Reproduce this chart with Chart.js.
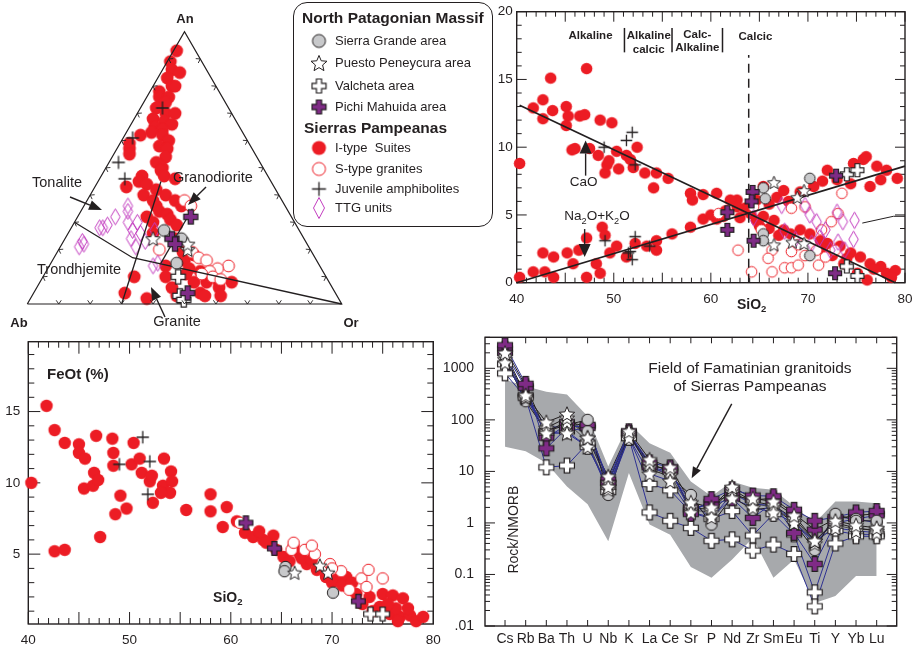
<!DOCTYPE html>
<html>
<head>
<meta charset="utf-8">
<script src="https://cdn.jsdelivr.net/npm/chart.js@4.4.1/dist/chart.umd.min.js"></script>
<style>
  body { margin: 0; width: 915px; height: 653px; background: #fff; position: relative; overflow: hidden;
         font-family: "Liberation Sans", Arial, Helvetica, sans-serif; color: #231f20; }
  canvas { position: absolute; }
  #legendBox { position: absolute; left: 293px; top: 2px; width: 200px; height: 225px; box-sizing: border-box;
               border: 1.5px solid #231f20; border-radius: 14px; z-index: 3; }
  .lg { position: absolute; z-index: 4; white-space: pre; line-height: 20px; font-size: 13px; }
  .lg.head { font-weight: bold; font-size: 15.5px; }
</style>
</head>
<body>
<canvas id="tern" width="360" height="330" style="left:0;top:0"></canvas>
<canvas id="harker" width="425" height="320" style="left:490px;top:0"></canvas>
<canvas id="feot" width="450" height="323" style="left:0;top:330px"></canvas>
<canvas id="spider" width="475" height="323" style="left:440px;top:330px"></canvas>
<div id="legendBox"></div>
<script>
// ---------- ternary An-Ab-Or, points are [An, Or] in %, Ab = rest ----------
const ternIType = [
  [93,1],[89,1],[86,3],[85,6],[83,3],[80,6],[80,7],[78,3],[76,4],[76,7],[74,7],[72,5],[70,9],[70,12],[68,6],[67,10],
  [66,13],[65,8],[64,11],[63,8],[62,5],[62,12],[60,15],[59,3],[58,13],[57,4],[57,16],[55,5],[54,17],[52,15],[50,18],[49,18],
  [47,13],[47,20],[46,24],[45,13],[44,16],[43,10],[42,20],[40,17],[40,24],[38,21],[38,28],[36,23],[36,31],[34,25],[33,28],[32,22],
  [31,30],[30,25],[29,33],[26,27],[24,35],[19,40],[18,44],[16,42],[14,37],[13,45],[12,49],
  [11,45],[10,29],[10,39],[8,49],[8,53],[8,57],[8,61],[6,43],[6,58],[4,29],[4,53],
  [3,46],[3,55],[3,60],[2,37]
];
const ternSType = [[38,31],[36,34],[20,32],[19,43],[17,46],[16,49],[14,57],[13,54],[12,52],[11,50],[10,54],[9,57]];
const ternTTG = [[23,6],[21,6],[22,7],[28,9],[28,10],[29,11],[32,12],[36,14],[34,15],[30,17],[27,20],
  [26,23],[24,21],[21,24],[23,26],[27,27],[14,33],[15,34],[30,20]];
const ternJuvenile = [[72,7],[61,3],[52,3],[46,8]];
const ternSierraGrande = [[27,30],[24,37],[15,40]];
const ternPuesto = [[24,28],[20,41],[22,40]];
const ternValcheta = [[10,43],[3,47],[1.5,49]];
const ternPichi = [[32,36],[24,34],[22,36],[4,49]];
const ternFrame = [[0,0],[0,100],[100,0],[0,0]];
const ternTonaliteLine = [[30,0],[17,25],[0,100]];
const ternGraniteLine = [[45,20],[0,30]];
const ternGranodioriteLine = [[35,35],[15,35]];
const ternTickSteps = [10,20,30,40,50,60,70,80,90];

// ---------- Harker: [SiO2, wt%] for CaO and Na2O+K2O ----------
const caoIType = [[40.3,8.8],[41.7,12.9],[42.7,12.1],[42.7,13.5],[43.5,15.1],[43.7,12.7],[45.1,13.0],[45.3,12.3],
  [45.1,11.6],[45.7,9.8],[46.5,12.3],[47.0,12.4],[47.2,15.8],[48.6,12.0],[49.8,11.8],[48.4,9.4],[49.1,8.1],
  [49.3,8.7],[50.3,9.7],[50.5,8.4],[51.3,9.4],[52.4,10.0],[51.7,9.1],[53.2,8.1],[54.1,7.0],[54.4,8.1],[55.6,7.7],
  [57.9,6.6],[58.1,6.1],[59.2,6.5],[60.6,6.6],[62.0,6.1],[62.7,5.6],[64.1,5.1],[64.7,4.6],[65.4,4.9],[66.5,4.6],
  [67.5,3.9],[68.2,3.6],[69.2,3.9],[70.2,3.6],[71.3,3.1],[72.0,2.9],[73.3,2.7],[74.4,2.2],[75.4,1.9],[76.4,1.4],
  [77.5,1.2],[78.1,0.7],[79.0,0.9],[76.1,0.2],[75.1,0.7],[73.7,1.4],[46.0,9.9],[47.5,9.9],[49.5,9.0],[52.0,8.5],
  [61.5,5.3],[63.0,4.8],[65.0,4.2],[66.0,4.0],[67.0,3.5],[71.5,2.5],[72.5,2.0],[74.0,1.8],[76.8,1.0],[78.6,0.4]];
const alkIType = [[40.3,0.4],[41.7,0.8],[42.9,0.8],[43.8,0.4],[42.7,2.2],[43.8,1.9],[45.2,2.2],[45.8,1.4],
  [46.4,2.4],[47.2,0.4],[47.2,3.3],[48.2,1.4],[48.8,4.1],[49.1,3.5],[48.6,0.7],[49.6,2.2],[50.3,2.7],[51.3,1.9],
  [52.2,2.9],[53.4,2.7],[54.4,3.1],[54.4,2.4],[57.9,4.1],[59.2,4.7],[60.6,4.7],[61.3,4.9],[62.7,6.1],[64.7,6.1],
  [65.4,7.1],[66.8,6.3],[67.5,6.8],[69.2,6.7],[70.6,7.1],[72.0,8.3],[73.0,7.6],[74.7,8.8],[75.7,9.1],[76.0,9.3],
  [77.1,8.6],[78.1,8.3],[79.2,7.7],[76.4,7.1],[74.4,7.3],[77.5,7.6],[63.5,5.5],[66.0,5.8],[68.0,6.0],[71.5,7.5],
  [60.0,5.0],[56.0,3.6]];
const harkerSType = [[60.8,5.1],[64.4,5.6],[66.3,2.4],[65.9,1.8],[64.2,0.8],[66.3,0.8],[67.6,1.1],[68.3,1.1],
  [69.0,1.3],[71.1,1.3],[68.3,2.3],[69.7,2.0],[70.9,2.4],[71.8,1.9],[72.8,2.4],[68.3,5.5],[69.7,5.6],[73.1,5.1],
  [73.5,6.6],[72.4,4.5],[62.8,2.4],[71.4,3.9],[65.2,3.9],[69.0,2.8]];
const harkerTTG = [[64.4,4.8],[67.3,5.7],[67.6,3.8],[68.7,3.2],[70.2,5.0],[70.9,4.5],[70.4,2.9],[71.2,3.3],
  [71.8,3.9],[72.3,2.4],[73.0,5.2],[73.1,3.0],[73.6,4.5],[74.8,4.6],[74.7,3.2],[69.7,5.7],[73.8,2.4]];
const harkerJuvenile = [[49.0,10.0],[51.3,10.5],[51.9,11.1],[52.2,8.7],[49.1,3.1],[51.5,2.2],[51.9,1.7],
  [52.2,3.4],[53.7,2.7],[51.7,2.3]];
const harkerSierraGrande = [[65.4,7.0],[65.6,6.2],[70.2,7.7],[65.4,3.6],[65.4,3.1],[70.2,2.0]];
const harkerPuesto = [[66.5,7.4],[68.9,6.3],[69.6,6.8],[66.5,2.8],[68.4,3.0],[69.6,2.9]];
const harkerValcheta = [[74.0,8.0],[75.1,8.3],[74.0,1.2],[75.1,0.5]];
const harkerPichi = [[61.7,5.2],[61.7,3.9],[64.3,6.7],[64.2,6.0],[64.4,3.1],[72.9,7.9],[72.8,0.7]];
const caoTrend = [[40.3,13.1],[79.0,0]];
const alkTrend = [[40,0],[80,8.6]];
const ttgTrend = [[75.6,4.4],[78.8,4.9],[80,4.9]];
const calcicLimit = [[63.9,0],[63.9,16.8]];
const seriesDividers = [51.1, 56.0, 61.2];
const dividerRange = [17.0, 18.8];
const harkerXTicks = [40,50,60,70,80];
const harkerYTicks = [0,5,10,15,20];

// ---------- FeOt vs SiO2 ----------
const feotIType = [[40.3,10.0],[41.8,15.4],[42.6,13.7],[42.6,5.2],[43.6,5.3],[43.6,12.8],[45.0,12.7],[45.0,12.1],
  [45.6,11.7],[45.5,9.6],[46.4,9.8],[46.5,10.7],[46.7,13.3],[46.9,10.2],[47.1,6.2],[48.3,13.1],[48.4,12.1],
  [48.4,11.2],[48.6,7.8],[49.1,9.1],[49.7,8.2],[50.2,11.3],[50.4,12.8],[51.0,11.7],[51.2,10.7],[52.0,10.1],
  [52.2,10.5],[52.3,8.6],[53.3,9.8],[53.4,11.7],[54.1,10.8],[54.2,10.1],[54.0,9.3],[53.1,9.3],[55.6,8.1],
  [58.0,9.2],[58.0,8.0],[59.6,8.3],[59.2,6.9],[60.6,7.3],[61.4,6.5],[62.2,6.2],[63.2,6.0],[64.2,6.3],[63.5,5.8],
  [64.5,5.3],[65.2,4.8],[66.2,5.5],[66.8,5.0],[67.5,4.3],[68.5,3.9],[69.4,3.4],[70.4,3.2],[71.4,3.4],[72.4,2.2],
  [73.7,2.0],[75.0,2.2],[76.0,2.1],[77.0,1.9],[74.7,1.3],[75.7,0.8],[76.7,0.6],[77.7,0.7],[78.3,0.3],[79.0,0.6],
  [76.3,1.2],[62.8,6.6],[65.8,4.5],[67.0,4.7],[68.0,4.6],[70.0,3.0],[71.0,2.8],[73.0,1.5],[74.0,1.0],[75.5,1.5],
  [77.5,1.2],[76.5,0.3],[72.0,3.0]];
const feotSType = [[66.0,5.3],[67.3,5.3],[68.3,5.0],[70.9,3.8],[72.9,3.3],[73.6,3.9],[75.0,3.3],[73.4,2.7],
  [69.8,4.3],[66.2,5.8],[60.9,7.2],[71.7,2.5],[68.0,5.6],[70.0,4.0]];
const feotJuvenile = [[51.3,13.2],[49.0,11.3],[52.0,11.5],[51.8,9.2]];
const feotSierraGrande = [[65.4,4.1],[65.3,3.8],[70.1,2.3]];
const feotPuesto = [[66.3,3.7],[68.8,4.2],[69.6,3.7]];
const feotValcheta = [[73.8,0.8],[75.0,0.8]];
const feotPichi = [[61.5,7.2],[64.3,5.4],[72.6,1.7]];
const feotXTicks = [40,50,60,70,80];
const feotYTicks = [5,10,15];

// ---------- spider diagram, rock / N-MORB ----------
const spiderElements = ['Cs','Rb','Ba','Th','U','Nb','K','La','Ce','Sr','P','Nd','Zr','Sm','Eu','Ti','Y','Yb','Lu'];
const fieldUpper = [600,450,350,310,117,12.5,86,35,23,6.4,3.3,6.4,4.8,4.4,2.1,1.0,2.6,2.6,2.4];
const fieldLower = [30,24.5,14.5,5.1,2.3,0.44,9.3,0.93,0.59,0.14,0.086,0.195,0.51,0.086,0.195,0.028,0.038,0.093,0.093];
const spiderValcheta = [
  [800,270,12,13,35,4,45,1.6,1.1,0.8,0.45,0.48,0.29,0.38,0.25,0.024,0.4,0.55,0.55],
  [1200,300,55,60,30,5,45,5.7,4.3,1.6,1.2,1.7,0.57,1.5,0.6,0.045,0.7,0.6,0.6]];
const spiderPichi = [
  [2800,500,28,70,80,6,55,15,12,1.5,2.9,4.5,3.4,3.3,1.8,1.1,1.3,1.6,1.7],
  [2000,420,45,80,70,7,60,12,10,2.0,2.2,3.0,1.25,2.5,0.64,0.16,1.0,1.2,1.4],
  [2400,450,60,90,75,6,55,13,11,1.8,2.5,3.5,2.8,3.0,1.5,0.74,1.2,1.4,1.5]];
const spiderSierraGrande = [
  [1500,230,60,80,100,3.5,55,11,8,3.5,0.93,3.2,1.8,2.0,1.0,0.3,1.5,1.1,1.1],
  [1800,260,75,70,60,5,50,12,9,2.6,1.2,3.8,2.3,2.2,1.1,0.35,1.3,1.2,1.0]];
const spiderPuesto = [
  [2000,300,90,130,45,8,60,17,12,2.5,2.0,5.0,3.0,2.6,1.4,0.45,1.1,0.9,0.8],
  [1300,280,55,55,30,5,45,9,6.5,1.6,1.3,3.0,2.0,1.6,1.0,0.45,0.8,0.7,0.65],
  [1700,290,70,110,45,6,55,14,10,2.0,1.8,4.5,2.6,2.2,1.2,0.45,1.0,0.8,0.7],
  [1500,270,60,90,38,4.5,50,12,8.5,1.8,1.6,4.0,2.4,2.0,1.1,0.4,0.9,0.75,0.75]];
const spiderYTicks = [0.01,0.1,1,10,100,1000];
const spiderYLabels = ['.01','0.1','1','10','100','1000'];

// ---------- styling ----------
const INK = '#231f20', RED = '#ec1c24', PURPLE = '#7f2b86', MAGENTA = '#c23cbf';
const GREY = '#c8c9cb', BLUE = '#2e3192', FIELD = '#a7a9ac';
const FONT = '"Liberation Sans", Arial, Helvetica, sans-serif';
const SQ = Math.sqrt(3) / 2;
Chart.defaults.font.family = FONT;
Chart.defaults.color = INK;

function mk(w, h, fn) {
  const c = document.createElement('canvas');
  c.width = Math.ceil(w); c.height = Math.ceil(h);
  const g = c.getContext('2d');
  fn(g, c.width / 2, c.height / 2);
  return c;
}
function circleImg(r, fill, stroke) {
  return mk(2 * r + 3, 2 * r + 3, (g, cx, cy) => {
    g.beginPath(); g.arc(cx, cy, stroke ? r - 0.5 : r, 0, Math.PI * 2);
    g.fillStyle = fill; g.fill();
    if (stroke) { g.lineWidth = 1; g.strokeStyle = stroke; g.stroke(); }
  });
}
function plusImg(r) {
  return mk(2 * r + 3, 2 * r + 3, (g, cx, cy) => {
    g.beginPath(); g.moveTo(cx - r, cy); g.lineTo(cx + r, cy); g.moveTo(cx, cy - r); g.lineTo(cx, cy + r);
    g.lineWidth = 1.3; g.strokeStyle = INK; g.stroke();
  });
}
function diamondImg(w, h) {
  return mk(w + 3, h + 3, (g, cx, cy) => {
    g.beginPath(); g.moveTo(cx, cy - h / 2); g.lineTo(cx + w / 2, cy); g.lineTo(cx, cy + h / 2); g.lineTo(cx - w / 2, cy);
    g.closePath(); g.lineWidth = 1; g.strokeStyle = MAGENTA; g.stroke();
  });
}
function starImg(R) {
  return mk(2 * R + 3, 2 * R + 3, (g, cx, cy) => {
    g.beginPath();
    for (let i = 0; i < 10; i++) {
      const rr = i % 2 ? R * 0.45 : R, a = -Math.PI / 2 + i * Math.PI / 5;
      g.lineTo(cx + rr * Math.cos(a), cy + R * 0.1 + rr * Math.sin(a));
    }
    g.closePath(); g.fillStyle = '#fff'; g.fill(); g.lineWidth = 1; g.strokeStyle = INK; g.stroke();
  });
}
function fatCrossImg(h, a, fill) {
  const p = [[-a,-h],[a,-h],[a,-a],[h,-a],[h,a],[a,a],[a,h],[-a,h],[-a,a],[-h,a],[-h,-a],[-a,-a]];
  return mk(2 * h + 3, 2 * h + 3, (g, cx, cy) => {
    g.beginPath(); p.forEach(([x, y]) => g.lineTo(cx + x, cy + y)); g.closePath();
    g.fillStyle = fill; g.fill(); g.lineWidth = 1.2; g.strokeStyle = INK; g.stroke();
  });
}
function symbolSet(r, o = {}) {
  const ck = o.cross || 1.1, sk = o.star || 1.2, tt = o.ttg || [10, 16];
  return {
    itype: circleImg(r, RED, null), stype: circleImg(r, '#fff', RED), sg: circleImg(r, GREY, INK),
    juv: plusImg(r), ttg: diamondImg(tt[0], tt[1]), pp: starImg(r * sk),
    va: fatCrossImg(r * ck, r * ck * 0.37, '#fff'), pm: fatCrossImg(r * ck, r * ck * 0.37, PURPLE)
  };
}

// ---------- dataset helpers ----------
const xy = arr => arr.map(([x, y]) => ({ x, y }));
const tern1 = (an, or) => ({ x: or / 100 + an / 200, y: an / 100 * SQ });
const tp = arr => arr.map(([an, or]) => tern1(an, or));
const sp = vals => vals.map((v, i) => ({ x: i, y: v }));
function dsPoints(data, img, order) {
  return { data, pointStyle: img, pointRadius: img.width / 2, pointHoverRadius: img.width / 2, showLine: false, order, clip: false };
}
function dsLine(data, color, width, dash, order) {
  return { data, showLine: true, pointRadius: 0, borderColor: color, borderWidth: width, borderDash: dash || [],
           fill: false, order, clip: false };
}

// ---------- drawing plugin: frame ticks, texts, arrows ----------
const DECOR = {};
function linTicks(min, max, step, major, minLen, majLen) {
  const out = [];
  for (let v = min; v <= max + 1e-9; v += step) {
    const r = Math.round(v * 1000) / 1000;
    out.push([r, Math.abs(r / major - Math.round(r / major)) < 1e-6 ? majLen : minLen]);
  }
  return out;
}
function logTicks(min, max, minLen, majLen) {
  const out = [];
  for (let e = Math.floor(Math.log10(min)); e <= Math.ceil(Math.log10(max)); e++)
    for (let k = 1; k < 10; k++) {
      const v = k * Math.pow(10, e);
      if (v >= min * 0.999 && v <= max * 1.001) out.push([v, k === 1 ? majLen : minLen]);
    }
  return out;
}
function drawText(ctx, t, x, y) {
  const size = t.size || 13, w = t.bold ? 'bold ' : '';
  const segs = t.segs || [[t.t, false]];
  const fontOf = sub => w + (sub ? size * 0.68 : size) + 'px ' + FONT;
  let total = 0;
  segs.forEach(([s, sub]) => { ctx.font = fontOf(sub); total += ctx.measureText(s).width; });
  ctx.save(); ctx.translate(x, y); if (t.rot) ctx.rotate(t.rot);
  let cx = t.align === 'left' ? 0 : t.align === 'right' ? -total : -total / 2;
  ctx.fillStyle = INK; ctx.textBaseline = 'middle'; ctx.textAlign = 'left';
  segs.forEach(([s, sub]) => { ctx.font = fontOf(sub); ctx.fillText(s, cx, sub ? size * 0.32 : 0); cx += ctx.measureText(s).width; });
  ctx.restore();
}
function drawArrow(ctx, x1, y1, x2, y2, head, halfW) {
  const a = Math.atan2(y2 - y1, x2 - x1), bx = x2 - head * Math.cos(a), by = y2 - head * Math.sin(a);
  ctx.strokeStyle = INK; ctx.fillStyle = INK; ctx.lineWidth = 1.4;
  ctx.beginPath(); ctx.moveTo(x1, y1); ctx.lineTo(bx, by); ctx.stroke();
  ctx.beginPath(); ctx.moveTo(x2, y2);
  ctx.lineTo(bx + halfW * Math.sin(a), by - halfW * Math.cos(a));
  ctx.lineTo(bx - halfW * Math.sin(a), by + halfW * Math.cos(a));
  ctx.closePath(); ctx.fill();
}
const decorPlugin = {
  id: 'decor',
  beforeDatasetsDraw(chart) {
    const cfg = DECOR[chart.canvas.id];
    if (!cfg || !cfg.frame) return;
    const { ctx, chartArea: a } = chart, sx = chart.scales.x, sy = chart.scales.y;
    ctx.save(); ctx.strokeStyle = INK; ctx.lineWidth = 1; ctx.beginPath();
    cfg.frame.xt.forEach(([v, len]) => {
      const X = sx.getPixelForValue(v);
      ctx.moveTo(X, a.bottom); ctx.lineTo(X, a.bottom - len); ctx.moveTo(X, a.top); ctx.lineTo(X, a.top + len);
    });
    cfg.frame.yt.forEach(([v, len]) => {
      const Y = sy.getPixelForValue(v);
      ctx.moveTo(a.left, Y); ctx.lineTo(a.left + len, Y); ctx.moveTo(a.right, Y); ctx.lineTo(a.right - len, Y);
    });
    ctx.stroke();
    ctx.lineWidth = 1.4; ctx.strokeRect(a.left, a.top, a.width, a.height);
    ctx.restore();
  },
  afterDatasetsDraw(chart) {
    const cfg = DECOR[chart.canvas.id];
    if (!cfg) return;
    const ctx = chart.ctx, sx = chart.scales.x, sy = chart.scales.y;
    const P = (x, y) => cfg.pixel ? [x, y] : [sx.getPixelForValue(x), sy.getPixelForValue(y)];
    ctx.save();
    if (cfg.ternTicks) {
      const TP = (an, or) => { const q = tern1(an, or); return [sx.getPixelForValue(q.x), sy.getPixelForValue(q.y)]; };
      const C = TP(33.3, 33.3);
      const edges = [[[0,0],[0,100]], [[0,100],[100,0]], [[100,0],[0,0]]];
      ctx.strokeStyle = INK; ctx.lineWidth = 0.9; ctx.beginPath();
      edges.forEach(([f, t]) => {
        const [x0, y0] = TP(f[0], f[1]), [x1, y1] = TP(t[0], t[1]);
        let ex = x1 - x0, ey = y1 - y0; const L = Math.hypot(ex, ey); ex /= L; ey /= L;
        let nx = -ey, ny = ex;
        cfg.ternTicks.forEach(s => {
          const px = x0 + ex * L * s / 100, py = y0 + ey * L * s / 100;
          if ((C[0] - px) * nx + (C[1] - py) * ny < 0) { nx = -nx; ny = -ny; }
          [0.6, -0.6].forEach(r => {
            const dx = nx * Math.cos(r) - ny * Math.sin(r), dy = nx * Math.sin(r) + ny * Math.cos(r);
            ctx.moveTo(px, py); ctx.lineTo(px + dx * 4.5, py + dy * 4.5);
          });
        });
      });
      ctx.stroke();
    }
    (cfg.arrows || []).forEach(a => {
      const [x1, y1] = P(a[0], a[1]), [x2, y2] = P(a[2], a[3]);
      drawArrow(ctx, x1, y1, x2, y2, a[4] || 12, a[5] || 5);
    });
    (cfg.texts || []).forEach(t => { const [x, y] = P(t.x, t.y); drawText(ctx, t, x, y); });
    ctx.restore();
  }
};
Chart.register(decorPlugin);

function makeChart(id, datasets, scales, padding) {
  return new Chart(document.getElementById(id), {
    type: 'scatter',
    data: { datasets },
    options: {
      responsive: false, animation: false, events: [],
      layout: { padding, autoPadding: false },
      plugins: { legend: { display: false }, tooltip: { enabled: false } },
      scales
    }
  });
}
function axis(min, max, tickVals, fitSize, horiz, pad, size, extra) {
  return Object.assign({
    type: 'linear', min, max,
    grid: { display: false, drawTicks: false }, border: { display: false },
    ticks: { padding: pad, color: INK, font: { size, family: FONT }, maxRotation: 0, autoSkip: false },
    afterBuildTicks: s => { s.ticks = tickVals.map(v => ({ value: v })); },
    afterFit: s => {
      if (horiz) s.height = fitSize; else s.width = fitSize;
      // labels may overhang the frame; the page layout already leaves room for them
      s.paddingLeft = s.paddingRight = s.paddingTop = s.paddingBottom = 0;
    }
  }, extra || {});
}

// ---------- ternary ----------
const ST = symbolSet(6.4, { ttg: [9.5, 16] });
DECOR.tern = {
  pixel: true, ternTicks: ternTickSteps,
  texts: [
    { t: 'An', x: 185, y: 19, size: 13, bold: true },
    { t: 'Ab', x: 19, y: 323, size: 13, bold: true },
    { t: 'Or', x: 351, y: 323, size: 13, bold: true },
    { t: 'Tonalite', x: 32, y: 183, size: 14.5, align: 'left' },
    { t: 'Granodiorite', x: 173, y: 178, size: 14.5, align: 'left' },
    { t: 'Trondhjemite', x: 37, y: 270, size: 14.5, align: 'left' },
    { t: 'Granite', x: 177, y: 322, size: 14.5 }
  ],
  arrows: [[70, 197, 102, 210, 13, 5], [206, 187, 188, 205, 13, 5], [165, 317, 151, 287, 13, 5]]
};
makeChart('tern', [
  dsLine(tp(ternFrame), INK, 1.2, null, 5),
  dsLine(tp(ternTonaliteLine), INK, 1.3, null, 5),
  dsLine(tp(ternGraniteLine), INK, 1.3, null, 5),
  dsLine(tp(ternGranodioriteLine), INK, 1.3, null, 5),
  dsPoints(tp(ternIType), ST.itype, 9),
  dsPoints(tp(ternSType), ST.stype, 8),
  dsPoints(tp(ternTTG), ST.ttg, 7),
  dsPoints(tp(ternJuvenile), ST.juv, 6),
  dsPoints(tp(ternSierraGrande), ST.sg, 4),
  dsPoints(tp(ternPuesto), ST.pp, 3),
  dsPoints(tp(ternValcheta), ST.va, 2),
  dsPoints(tp(ternPichi), ST.pm, 1)
], {
  x: { type: 'linear', display: false, min: -27.3 / 314.4, max: (360 - 27.3) / 314.4 },
  y: { type: 'linear', display: false, min: -26 / 314.4, max: 304 / 314.4 }
}, 0);

// ---------- Harker CaO / Na2O+K2O ----------
const SH = symbolSet(5.8, { ttg: [9.5, 16.5], star: 1.2, cross: 1.12 });
DECOR.harker = {
  frame: { xt: linTicks(40, 80, 1, 5, 5, 10), yt: linTicks(0, 20, 1, 5, 5, 10) },
  texts: [
    { t: 'Alkaline', x: 47.6, y: 18.2, size: 11.5, bold: true },
    { t: 'Alkaline', x: 53.6, y: 18.2, size: 11.5, bold: true },
    { t: 'calcic', x: 53.6, y: 17.2, size: 11.5, bold: true },
    { t: 'Calc-', x: 58.6, y: 18.3, size: 11.5, bold: true },
    { t: 'Alkaline', x: 58.6, y: 17.35, size: 11.5, bold: true },
    { t: 'Calcic', x: 64.6, y: 18.15, size: 11.5, bold: true },
    { t: 'CaO', x: 46.9, y: 7.43, size: 13.5 },
    { segs: [['Na'], ['2', true], ['O+K'], ['2', true], ['O']], x: 48.27, y: 4.87, size: 13.5 },
    { segs: [['SiO'], ['2', true]], x: 64.2, y: -1.65, size: 14, bold: true }
  ],
  arrows: [[47.1, 7.9, 47.1, 10.5, 13, 6], [47.0, 3.96, 47.0, 1.9, 13, 6]]
};
const dividerSets = seriesDividers.map(x => dsLine(xy([[x, dividerRange[0]], [x, dividerRange[1]]]), INK, 1.5, null, 5));
makeChart('harker', [
  dsLine(xy(caoTrend), INK, 1.7, null, 5),
  dsLine(xy(alkTrend), INK, 1.7, null, 5),
  dsLine(xy(ttgTrend), INK, 1, null, 5),
  dsLine(xy(calcicLimit), INK, 1.5, [9, 6], 5),
  ...dividerSets,
  dsPoints(xy(caoIType), SH.itype, 9),
  dsPoints(xy(alkIType), SH.itype, 9),
  dsPoints(xy(harkerSType), SH.stype, 8),
  dsPoints(xy(harkerTTG), SH.ttg, 7),
  dsPoints(xy(harkerJuvenile), SH.juv, 6),
  dsPoints(xy(harkerSierraGrande), SH.sg, 4),
  dsPoints(xy(harkerPuesto), SH.pp, 3),
  dsPoints(xy(harkerValcheta), SH.va, 2),
  dsPoints(xy(harkerPichi), SH.pm, 1)
], {
  x: axis(40, 80, harkerXTicks, 37.3, true, 8, 13.5),
  y: axis(0, 20, harkerYTicks, 26.7, false, 4, 13.5)
}, { left: 0, top: 11.7, right: 10, bottom: 0 });

// ---------- FeOt ----------
const SF = symbolSet(6.2, { star: 1.2, cross: 1.1 });
DECOR.feot = {
  frame: { xt: linTicks(40, 80, 1, 5, 6, 12), yt: linTicks(1, 19, 1, 5, 6, 12) },
  texts: [
    { t: 'FeOt (%)', x: 41.85, y: 17.6, size: 15, bold: true, align: 'left' },
    { segs: [['SiO'], ['2', true]], x: 59.7, y: 1.93, size: 14, bold: true }
  ]
};
makeChart('feot', [
  dsPoints(xy(feotIType), SF.itype, 9),
  dsPoints(xy(feotSType), SF.stype, 8),
  dsPoints(xy(feotJuvenile), SF.juv, 6),
  dsPoints(xy(feotSierraGrande), SF.sg, 4),
  dsPoints(xy(feotPuesto), SF.pp, 3),
  dsPoints(xy(feotValcheta), SF.va, 2),
  dsPoints(xy(feotPichi), SF.pm, 1)
], {
  x: axis(40, 80, feotXTicks, 29, true, 8, 13.5),
  y: axis(0.1, 19.9, feotYTicks, 28.3, false, 8, 13.5)
}, { left: 0, top: 11.7, right: 16.7, bottom: 0 });

// ---------- spider ----------
const SS = symbolSet(6.2, { star: 1.3, cross: 1.2 });
DECOR.spider = {
  frame: { xt: spiderElements.map((e, i) => [i, 6]), yt: logTicks(0.01, 4000, 5, 10) },
  texts: [
    { t: 'Field of Famatinian granitoids', x: 11.86, y: 980, size: 15.5 },
    { t: 'of Sierras Pampeanas', x: 11.86, y: 437, size: 15.5 },
    { t: 'Rock/NMORB', x: 0.436, y: 0.74, size: 14, rot: -Math.PI / 2 }
  ],
  arrows: [[10.98, 205, 9.04, 7.4, 11, 4.5]]
};
const spiderGroups = [
  { samples: spiderValcheta, img: SS.va, colors: [BLUE, BLUE], order: 4 },
  { samples: spiderPichi, img: SS.pm, colors: [BLUE, BLUE, INK], order: 3 },
  { samples: spiderSierraGrande, img: SS.sg, colors: [INK, BLUE], order: 2 },
  { samples: spiderPuesto, img: SS.pp, colors: [INK, BLUE, INK, '#4d4d4f'], order: 1 }
];
const spiderSets = [
  Object.assign(dsLine(sp(fieldUpper), 'rgba(0,0,0,0)', 0, null, 20), { fill: '+1', backgroundColor: FIELD }),
  dsLine(sp(fieldLower), 'rgba(0,0,0,0)', 0, null, 20)
];
spiderGroups.forEach(g => g.samples.forEach((s, i) => spiderSets.push(dsLine(sp(s), g.colors[i], 1, null, 10))));
spiderGroups.forEach(g => g.samples.forEach(s => spiderSets.push(dsPoints(sp(s), g.img, g.order))));
makeChart('spider', spiderSets, {
  x: axis(-0.97, 18.97, spiderElements.map((e, i) => i), 27, true, 4.5, 14,
          { ticks: { padding: 4.5, color: INK, font: { size: 14, family: FONT }, maxRotation: 0, autoSkip: false,
                     callback: v => spiderElements[Math.round(v)] } }),
  y: axis(0.01, 4000, spiderYTicks, 45, false, 11, 14,
          { type: 'logarithmic',
            ticks: { padding: 11, color: INK, font: { size: 14, family: FONT }, autoSkip: false,
                     callback: (v, i) => spiderYLabels[i] } })
}, { left: 0, top: 7.3, right: 18.3, bottom: 0 });

// ---------- legend box ----------
const LS = symbolSet(7, { star: 1.2, cross: 1.0, ttg: [11, 21] });
const legendRows = [
  { head: 'North Patagonian Massif', y: 18, x: 302 },
  { sym: 'sg', label: 'Sierra Grande area', y: 41 },
  { sym: 'pp', label: 'Puesto Peneycura area', y: 63 },
  { sym: 'va', label: 'Valcheta area', y: 86 },
  { sym: 'pm', label: 'Pichi Mahuida area', y: 107 },
  { head: 'Sierras Pampeanas', y: 128, x: 304 },
  { sym: 'itype', label: 'I-type  Suites', y: 148 },
  { sym: 'stype', label: 'S-type granites', y: 169 },
  { sym: 'juv', label: 'Juvenile amphibolites', y: 189 },
  { sym: 'ttg', label: 'TTG units', y: 208 }
];
legendRows.forEach(r => {
  const d = document.createElement('div');
  d.className = 'lg' + (r.head ? ' head' : '');
  d.textContent = r.head || r.label;
  d.style.left = (r.head ? r.x : 335) + 'px';
  d.style.top = (r.y - 10) + 'px';
  document.body.appendChild(d);
  if (r.sym) {
    const img = LS[r.sym];
    const c = document.createElement('canvas');
    c.width = 26; c.height = 26;
    c.style.left = (319 - 13) + 'px'; c.style.top = (r.y - 13) + 'px'; c.style.zIndex = 4;
    c.getContext('2d').drawImage(img, 13 - img.width / 2, 13 - img.height / 2);
    document.body.appendChild(c);
  }
});
</script>
</body>
</html>
